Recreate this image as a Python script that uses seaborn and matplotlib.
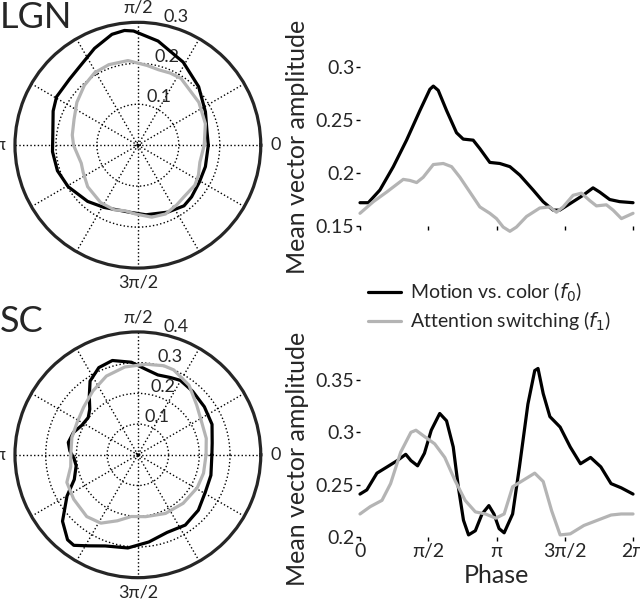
import numpy as np
import pandas as pd
import matplotlib
matplotlib.use('Agg')
import matplotlib.pyplot as plt
import seaborn as sns

sns.set_style('white')
plt.rcParams['font.family'] = ['Lato', 'DejaVu Sans']
plt.rcParams['mathtext.fontset'] = 'dejavusans'

# phase in multiples of pi, amplitude values
lgn_f0_phase = [0.0, 0.061, 0.146, 0.244, 0.341, 0.439, 0.512, 0.537, 0.573, 0.634, 0.707,
                0.756, 0.829, 0.878, 0.951, 1.024, 1.098, 1.171, 1.268, 1.341, 1.415,
                1.463, 1.537, 1.634, 1.707, 1.756, 1.829, 1.902, 2.0]
lgn_f0_amp = [0.172, 0.172, 0.184, 0.206, 0.231, 0.259, 0.279, 0.282, 0.278, 0.259, 0.238,
              0.232, 0.231, 0.223, 0.210, 0.209, 0.206, 0.198, 0.184, 0.173, 0.165,
              0.165, 0.171, 0.179, 0.186, 0.182, 0.175, 0.173, 0.172]

lgn_f1_phase = [0.0, 0.098, 0.195, 0.317, 0.366, 0.415, 0.463, 0.537, 0.610, 0.671, 0.732,
                0.805, 0.878, 0.951, 1.0, 1.049, 1.098, 1.146, 1.220, 1.317, 1.390,
                1.439, 1.488, 1.561, 1.622, 1.683, 1.732, 1.805, 1.854, 1.915, 2.0]
lgn_f1_amp = [0.162, 0.173, 0.182, 0.194, 0.193, 0.191, 0.196, 0.208, 0.209, 0.206, 0.196,
              0.182, 0.168, 0.162, 0.157, 0.149, 0.145, 0.149, 0.159, 0.167, 0.168,
              0.163, 0.168, 0.179, 0.181, 0.174, 0.169, 0.170, 0.165, 0.157, 0.162]

sc_f0_phase = [0.0, 0.050, 0.124, 0.199, 0.273, 0.335, 0.373, 0.422, 0.472, 0.522, 0.584,
               0.634, 0.683, 0.720, 0.758, 0.795, 0.845, 0.894, 0.944, 0.981, 1.019,
               1.056, 1.118, 1.168, 1.230, 1.280, 1.304, 1.342, 1.391, 1.466, 1.540,
               1.615, 1.689, 1.764, 1.839, 1.913, 2.0]
sc_f0_amp = [0.241, 0.245, 0.261, 0.267, 0.273, 0.279, 0.273, 0.268, 0.280, 0.302, 0.318,
             0.311, 0.286, 0.248, 0.216, 0.202, 0.206, 0.222, 0.230, 0.222, 0.208,
             0.204, 0.222, 0.267, 0.327, 0.359, 0.361, 0.337, 0.315, 0.305, 0.286,
             0.270, 0.276, 0.267, 0.251, 0.247, 0.241]

sc_f1_phase = [0.0, 0.075, 0.161, 0.224, 0.298, 0.373, 0.410, 0.472, 0.547, 0.621, 0.696,
               0.770, 0.845, 0.919, 0.994, 1.056, 1.118, 1.193, 1.280, 1.342, 1.404,
               1.466, 1.540, 1.640, 1.739, 1.839, 1.913, 2.0]
sc_f1_amp = [0.222, 0.229, 0.235, 0.251, 0.281, 0.300, 0.302, 0.296, 0.289, 0.276, 0.254,
             0.235, 0.224, 0.222, 0.218, 0.222, 0.248, 0.254, 0.261, 0.253, 0.225,
             0.202, 0.203, 0.211, 0.216, 0.221, 0.222, 0.222]

labels = ['Motion vs. color ($f_0$)', 'Attention switching ($f_1$)']
colors = {labels[0]: 'black', labels[1]: '#b4b4b4'}


def make_df(p0, a0, p1, a1):
    d0 = pd.DataFrame({'phase': np.array(p0) * np.pi, 'amp': a0, 'series': labels[0]})
    d1 = pd.DataFrame({'phase': np.array(p1) * np.pi, 'amp': a1, 'series': labels[1]})
    return pd.concat([d0, d1], ignore_index=True)


lgn = make_df(lgn_f0_phase, lgn_f0_amp, lgn_f1_phase, lgn_f1_amp)
sc = make_df(sc_f0_phase, sc_f0_amp, sc_f1_phase, sc_f1_amp)

fig = plt.figure(figsize=(6.4, 6.0), dpi=100)

phase_ticks = [0, np.pi / 2, np.pi, 3 * np.pi / 2, 2 * np.pi]
phase_labels = ['0', 'π/2', 'π', '3π/2', '2π']


def polar_panel(rect, df, rmax, rticks):
    ax = fig.add_axes(rect, projection='polar')
    for name, g in df.groupby('series', sort=False):
        sns.lineplot(data=g, x='phase', y='amp', ax=ax, color=colors[name], lw=2.3,
                     sort=False, legend=False, solid_joinstyle='round')
    ax.set_ylim(0, rmax)
    # tiny ring at the centre, like the original
    ax.set_rticks([0.006] + rticks)
    ax.set_yticklabels([''] + [str(t) for t in rticks], fontsize=13)
    ax.set_rlabel_position(78)
    ax.set_thetagrids(np.arange(0, 360, 30),
                      ['0', '', '', 'π/2', '', '', 'π', '', '', '3π/2', '', ''], fontsize=13)
    ax.xaxis.set_tick_params(pad=0)
    ax.grid(True, color='black', ls=':', lw=1)
    ax.spines['polar'].set_linewidth(2.3)
    ax.set_xlabel('')
    ax.set_ylabel('')
    return ax


def line_panel(rect, df, ylim, yticks, show_x):
    ax = fig.add_axes(rect)
    for name, g in df.groupby('series', sort=False):
        sns.lineplot(data=g, x='phase', y='amp', ax=ax, color=colors[name], lw=2.3,
                     label=name, clip_on=False, solid_joinstyle='round')
    ax.set_xlim(0, 2 * np.pi)
    ax.set_ylim(*ylim)
    ax.set_yticks(yticks)
    ax.set_yticklabels([f'{t:g}' for t in yticks], fontsize=14)
    ax.set_xticks(phase_ticks)
    if show_x:
        ax.set_xticklabels(phase_labels, fontsize=14)
        ax.set_xlabel('Phase', fontsize=18, labelpad=3)
    else:
        ax.set_xticklabels([])
        ax.set_xlabel('')
    ax.set_ylabel('Mean vector amplitude', fontsize=18, labelpad=5)
    for s in ax.spines.values():
        s.set_visible(False)
    ax.tick_params(axis='both', length=3, width=1, color='black', pad=1,
                   bottom=True, left=True, direction='out')
    ax.legend_.remove()
    return ax


polar_panel([0.0234, 0.553, 0.384, 0.41], lgn, 0.3, [0.1, 0.2, 0.3])
polar_panel([0.0234, 0.037, 0.384, 0.41], sc, 0.4, [0.1, 0.2, 0.3, 0.4])

ax_top = line_panel([0.5625, 0.6233, 0.4266, 0.265], lgn, (0.15, 0.3), [0.15, 0.2, 0.25, 0.3], False)
line_panel([0.5625, 0.105, 0.4266, 0.2617], sc, (0.2, 0.35), [0.2, 0.25, 0.3, 0.35], True)

handles, hl = ax_top.get_legend_handles_labels()
fig.legend(handles, hl, loc='center left', bbox_to_anchor=(0.575, 0.488), frameon=False,
           fontsize=14, handlelength=1.7, handletextpad=0.45, labelspacing=0.3,
           borderaxespad=0, borderpad=0)

fig.text(0.0, 0.998, 'LGN', fontsize=26, va='top', ha='left')
fig.text(0.0, 0.492, 'SC', fontsize=26, va='top', ha='left')

fig.savefig('out.png', dpi=100)
